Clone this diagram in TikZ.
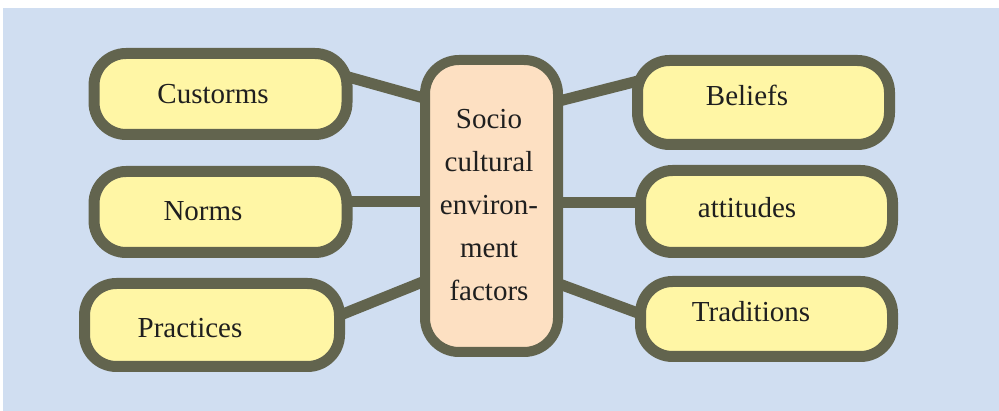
\documentclass[tikz,border=0pt]{standalone}
\usepackage{fontspec}
\newfontfamily\boxface{LiberationSerif}[Extension=.ttf, UprightFont=*-Regular]
\usetikzlibrary{calc}
\definecolor{bgblue}{RGB}{208,222,241}
\definecolor{rim}{RGB}{98,100,78}
\definecolor{leaf}{RGB}{255,246,165}
\definecolor{core}{RGB}{253,224,194}
\pgfdeclarelayer{back}
\pgfsetlayers{back,main}
\tikzset{
  leafbox/.style={draw=rim, fill=leaf, line width=11pt, rounded corners=32pt,
    rectangle, outer sep=0pt, inner sep=0pt, minimum width=253pt},
  corebox/.style={draw=rim, fill=core, line width=10pt, rounded corners=34pt,
    rectangle, outer sep=0pt, inner sep=0pt},
  boxtext/.style={font=\boxface\fontsize{29}{43}\selectfont, text=black!88, inner sep=0pt},
  link/.style={draw=rim, line width=11pt},
}
\begin{document}
\begin{tikzpicture}[x=1pt, y=-1pt]
\useasboundingbox (0,0) rectangle (999,411);

% boxes (outlines only, text placed separately)
\node[corebox, minimum width=133pt, minimum height=292pt] (soc) at (491.5,206) {};
\node[leafbox, minimum height=81pt] (cus) at (220.5,94) {};
\node[leafbox, minimum height=81pt] (nor) at (220.5,212) {};
\node[leafbox, minimum width=255pt, minimum height=83pt] (pra) at (212,325) {};
\node[leafbox, minimum width=252pt, minimum height=84pt] (bel) at (763.5,102.5) {};
\node[leafbox, minimum width=252pt, minimum height=82pt] (att) at (766.5,211.5) {};
\node[leafbox, minimum width=252pt, minimum height=75pt] (tra) at (766.5,319) {};

% background and connectors, drawn beneath the boxes
\begin{pgfonlayer}{back}
\fill[bgblue] (3,8) rectangle (999,411);
\draw[link] ($(cus.east)+(0,-17.4)$) -- ($(soc.west)+(0,-107.6)$);
\draw[link] ($(nor.east)+(0,-10)$) -- ($(soc.west)+(0,-4)$);
\draw[link] ($(pra.east)+(0,-9.6)$) -- ($(soc.west)+(0,75)$);
\draw[link] ($(soc.east)+(0,-104.7)$) -- ($(bel.west)+(0,-21.4)$);
\draw[link] ($(soc.east)+(0,-3)$) -- ($(att.west)+(0,-8.5)$);
\draw[link] ($(soc.east)+(0,77.5)$) -- ($(tra.west)+(0,-5)$);
\end{pgfonlayer}

% texts
\node[boxtext, align=center] (socT) at (489,205) {Socio\\cultural\\environ-\\ment\\factors};
\node[boxtext] (cusT) at (213,94) {Custorms};
\node[boxtext] (norT) at (203,211) {Norms};
\node[boxtext] (praT) at (190,328.5) {Practices};
\node[boxtext] (belT) at (747,95.5) {Beliefs};
\node[boxtext] (attT) at (747,207.5) {attitudes};
\node[boxtext] (traT) at (751,311.5) {Traditions};
\end{tikzpicture}
\end{document}
